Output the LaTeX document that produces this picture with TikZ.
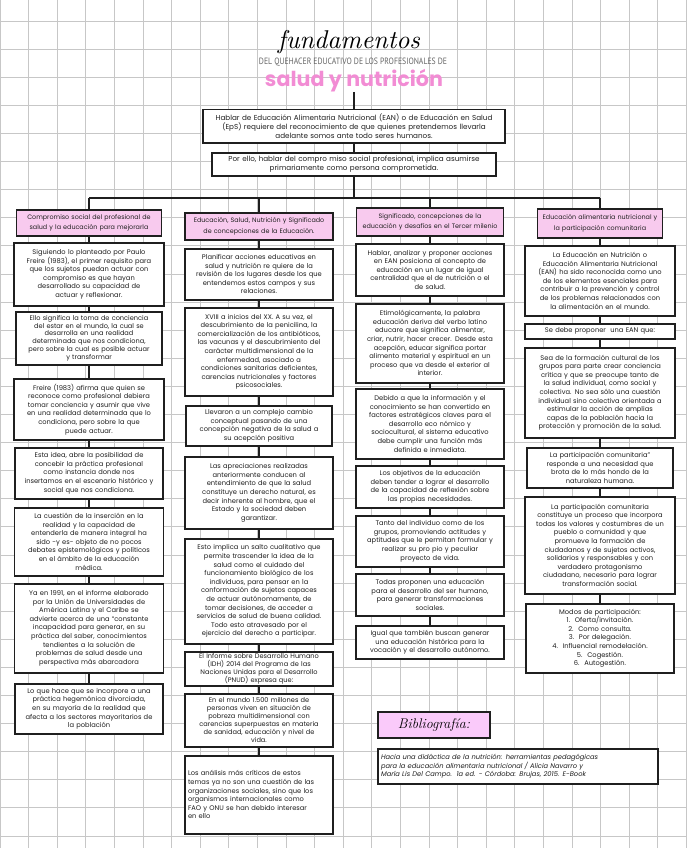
\documentclass[tikz,border=0pt]{standalone}
\usepackage{fontspec}
\setmainfont{Poppins}
\newfontfamily\lmfont{Latin Modern Roman}
\newfontfamily\subfont{PT Sans}
\usepackage{graphicx}
\definecolor{hpink}{RGB}{248,202,238}
\definecolor{bpink}{RGB}{250,202,250}
\definecolor{tpink}{RGB}{242,140,212}
\tikzset{
 gridline/.style={draw=black!22, line width=0.7pt},
 box/.style={draw=black!88, line width=1.5pt, fill=white, inner sep=0pt, align=center, font=\fontsize{6.7}{8.6}\selectfont, text=black!88},
 tightbox/.style={box, font=\fontsize{6.6}{7.9}\selectfont},
 lbox/.style={box, align=left},
 head/.style={box, fill=hpink, font=\fontsize{6.4}{10.5}\selectfont},
 topbox/.style={box, font=\fontsize{7.2}{9.2}\selectfont},
 conn/.style={line width=1.6pt, draw=black!88},
}
\newcommand\mybox[7]{\pgfmathsetmacro\myw{#5-6}\pgfmathsetmacro\myh{#4-#3}\node[#6, minimum width=#5pt, minimum height=\myh pt, text width=\myw pt, anchor=north] (#1) at (#2,#3) {#7};}
\begin{document}
\begin{tikzpicture}[x=1pt,y=-1pt]
\useasboundingbox (0,0) rectangle (686,848);
\fill[white] (0,0) rectangle (686,848);
\foreach \i in {0,...,24} \draw[gridline] (\i*28.6,0) -- (\i*28.6,848);
\foreach \k in {0,...,29} \draw[gridline] (0,21+\k*28.1) -- (686,21+\k*28.1);

% title
\node[inner sep=0pt] (title) at (349,42) {\resizebox{142pt}{!}{\lmfont\itshape fundamentos}};
\node[inner sep=0pt, text=black!60] (sub) at (353,62) {\resizebox{188pt}{6.5pt}{\subfont DEL QUEHACER EDUCATIVO DE LOS PROFESIONALES DE}};
\node[inner sep=0pt] (sal) at (354,81) {\resizebox{178pt}{!}{\color{tpink}\bfseries salud y nutrición}};
\coordinate (tstart) at (354,92);

% top boxes
\mybox{t1}{354}{109}{142}{302}{topbox}{Hablar de Educación Alimentaria Nutricional (EAN) o de Educación en Salud\\ (EpS) requiere del reconocimiento de que quienes pretendemos llevarla\\ adelante somos ante todo seres humanos.}
\mybox{t2}{354}{152}{175}{284}{topbox}{Por ello, hablar del compro miso social profesional, implica asumirse\\ primariamente como persona comprometida.}
\coordinate (busm) at (354,198);
\coordinate (bus1) at (89,198);
\coordinate (bus2) at (259,198);
\coordinate (bus3) at (430,198);
\coordinate (bus4) at (600,198);

% column 1
\mybox{h1}{89}{209}{235}{145}{head}{Compromiso social del profesional de\\ salud y la educación para mejorarla}
\mybox{a1}{89}{242}{305}{150}{box}{Siguiendo lo planteado por Paulo\\ Freire (1983), el primer requisito para\\ que los sujetos puedan actuar con\\ compromiso es que hayan\\ desarrollado su capacidad de\\ actuar y reflexionar.}
\mybox{a2}{89}{311}{364}{146}{tightbox}{Ello significa la toma de conciencia\\ del estar en el mundo, la cual se\\ desarrolla en una realidad\\ determinada que nos condiciona,\\ pero sobre la cual es posible actuar\\ y transformar}
\mybox{a3}{89}{378}{439}{150}{box}{Freire (1983) afirma que quien se\\ reconoce como profesional debiera\\ tomar conciencia y asumir que vive\\ en una realidad determinada que lo\\ condiciona, pero sobre la que\\ puede actuar.}
\mybox{a4}{89}{447}{498}{148}{box}{Esta idea, abre la posibilidad de\\ concebir la práctica profesional\\ como instancia donde nos\\ insertamos en el escenario histórico y\\ social que nos condiciona.}
\mybox{a5}{89}{507}{575}{149}{box}{La cuestión de la inserción en la\\ realidad y la capacidad de\\ entenderla de manera integral ha\\ sido -y es- objeto de no pocos\\ debates epistemológicos y políticos\\ en el ámbito de la educación\\ médica.}
\mybox{a6}{89}{583}{672}{149}{box}{Ya en 1991, en el informe elaborado\\ por la Unión de Universidades de\\ América Latina y el Caribe se\\ advierte acerca de una “constante\\ incapacidad para generar, en su\\ práctica del saber, conocimientos\\ tendientes a la solución de\\ problemas de salud desde una\\ perspectiva más abarcadora}
\mybox{a7}{89}{683}{733}{148}{box}{Lo que hace que se incorpore a una\\ práctica hegemónica divorciada,\\ en su mayoría de la realidad que\\ afecta a los sectores mayoritarios de\\ la población}

% column 2
\mybox{h2}{259}{212}{239}{148}{head}{Educación, Salud, Nutrición y Significado\\ de concepciones de la Educación.}
\mybox{b1}{259}{248}{299}{148}{box}{Planificar acciones educativas en\\ salud y nutrición re quiere de la\\ revisión de los lugares desde los que\\ entendemos estos campos y sus\\ relaciones.}
\mybox{b2}{259}{307}{395}{148}{box}{XVIII a inicios del XX. A su vez, el\\ descubrimiento de la penicilina, la\\ comercialización de los antibióticos,\\ las vacunas y el descubrimiento del\\ carácter multidimensional de la\\ enfermedad, asociado a\\ condiciones sanitarias deficientes,\\ carencias nutricionales y factores\\ psicosociales.}
\mybox{b3}{259}{405}{445}{146}{box}{Llevaron a un complejo cambio\\ conceptual pasando de una\\ concepción negativa de la salud a\\ su acepción positiva}
\mybox{b4}{259}{456}{528}{148}{box}{Las apreciaciones realizadas\\ anteriormente conducen al\\ entendimiento de que la salud\\ constituye un derecho natural, es\\ decir inherente al hombre, que el\\ Estado y la sociedad deben\\ garantizar.}
\mybox{b5}{259}{538}{643}{148}{box}{Esto implica un salto cualitativo que\\ permite trascender la idea de la\\ salud como el cuidado del\\ funcionamiento biológico de los\\ individuos, para pensar en la\\ conformación de sujetos capaces\\ de actuar autónomamente, de\\ tomar decisiones, de acceder a\\ servicios de salud de buena calidad.\\ Todo esto atravesado por el\\ ejercicio del derecho a participar.}
\mybox{b6}{259}{651}{685}{148}{tightbox}{El Informe sobre Desarrollo Humano\\ (IDH) 2014 del Programa de las\\ Naciones Unidas para el Desarrollo\\ (PNUD) expresa que:}
\mybox{b7}{259}{693}{746}{148}{tightbox}{En el mundo 1.500 millones de\\ personas viven en situación de\\ pobreza multidimensional con\\ carencias superpuestas en materia\\ de sanidad, educación y nivel de\\ vida.}
\mybox{b8}{259}{755}{833}{148}{lbox}{Los análisis más críticos de estos\\ temas ya no son una cuestión de las\\ organizaciones sociales, sino que los\\ organismos internacionales como\\ FAO y ONU se han debido interesar\\ en ello}

% column 3
\mybox{h3}{430}{207}{235}{147}{head}{Significado, concepciones de la\\ educación y desafíos en el Tercer milenio}
\mybox{c1}{430}{243}{295}{148}{box}{Hablar, analizar y proponer acciones\\ en EAN posiciona al concepto de\\ educación en un lugar de igual\\ centralidad que el de nutrición o el\\ de salud.}
\mybox{c2}{430}{303}{382}{148}{box}{Etimológicamente, la palabra\\ educación deriva del verbo latino\\ educare que significa alimentar,\\ criar, nutrir, hacer crecer. Desde esta\\ acepción, educar significa portar\\ alimento material y espiritual en un\\ proceso que va desde el exterior al\\ interior.}
\mybox{c3}{430}{388}{458}{148}{box}{Debido a que la información y el\\ conocimiento se han convertido en\\ factores estratégicos claves para el\\ desarrollo eco nómico y\\ sociocultural, el sistema educativo\\ debe cumplir una función más\\ definida e inmediata.}
\mybox{c4}{430}{465}{507}{148}{box}{Los objetivos de la educación\\ deben tender a lograr el desarrollo\\ de la capacidad de reflexión sobre\\ las propias necesidades.}
\mybox{c5}{430}{515}{566}{148}{box}{Tanto del individuo como de los\\ grupos, promoviendo actitudes y\\ aptitudes que le permitan formular y\\ realizar su pro pio y peculiar\\ proyecto de vida.}
\mybox{c6}{430}{573}{615}{148}{box}{Todas proponen una educación\\ para el desarrollo del ser humano,\\ para generar transformaciones\\ sociales.}
\mybox{c7}{430}{625}{658}{148}{box}{Igual que también buscan generar\\ una educación histórica para la\\ vocación y el desarrollo autónomo.}

% column 4
\mybox{h4}{600}{208}{237}{125}{head}{Educación alimentaria nutricional y\\ la participación comunitaria}
\mybox{d1}{600}{245}{315}{150}{box}{La Educación en Nutrición o\\ Educación Alimentaria Nutricional\\ (EAN) ha sido reconocida como uno\\ de los elementos esenciales para\\ contribuir a la prevención y control\\ de los problemas relacionados con\\ la alimentación en el mundo.}
\mybox{d2}{600}{323}{338}{150}{box}{Se debe proponer\ \ una EAN que:}
\mybox{d3}{600}{347}{437}{150}{box}{Sea de la formación cultural de los\\ grupos para parte crear conciencia\\ crítica y que se preocupe tanto de\\ la salud individual, como social y\\ colectiva. No sea sólo una cuestión\\ individual sino colectiva orientada a\\ estimular la acción de amplias\\ capas de la población hacia la\\ protección y promoción de la salud.}
\mybox{d4}{600}{447}{487}{146}{box}{La participación comunitaria”\\ responde a una necesidad que\\ brota de lo más hondo de la\\ naturaleza humana.}
\mybox{d5}{600}{496}{593}{150}{box}{La participación comunitaria\\ constituye un proceso que incorpora\\ todas los valores y costumbres de un\\ pueblo o comunidad y que\\ promueve la formación de\\ ciudadanos y de sujetos activos,\\ solidarios y responsables y con\\ verdadero protagonismo\\ ciudadano, necesario para lograr\\ transformación social.}
\mybox{d6}{600}{603}{672}{148}{box}{Modos de participación:\\ 1.\hspace{0.7em}Oferta/invitación.\\ 2.\hspace{0.7em}Como consulta.\\ 3.\hspace{0.7em}Por delegación.\\ 4.\hspace{0.7em}Influencial remodelación.\\ 5.\hspace{0.7em}Cogestión.\\ 6.\hspace{0.7em}Autogestión.}

% bibliography
\node[draw=black!88, line width=1.5pt, fill=bpink, minimum width=112pt, minimum height=26pt, inner sep=0pt] (bibh) at (434,725) {\lmfont\itshape\fontsize{14}{14}\selectfont Bibliografía:};
\mybox{bib}{518}{748}{783}{280}{lbox}{\itshape Hacia una didáctica de la nutrición: herramientas pedagógicas\\ para la educación alimentaria nutricional / Alicia Navarro y\\ María Lis Del Campo.\ \ 1a ed. - Córdoba: Brujas, 2015. E-Book}

% connectors
\draw[conn] (tstart) -- (t1.north);
\draw[conn] (t1.south) -- (t2.north);
\draw[conn] (t2.south) -- (busm);
\draw[conn] (bus1) -- (bus4);
\draw[conn] (bus1) -- (h1.north);
\draw[conn] (bus2) -- (h2.north);
\draw[conn] (bus3) -- (h3.north);
\draw[conn] (bus4) -- (h4.north);
\foreach \a/\b in {h1/a1,a1/a2,a2/a3,a3/a4,a4/a5,a5/a6,a6/a7,
  h2/b1,b1/b2,b2/b3,b3/b4,b4/b5,b5/b6,b6/b7,b7/b8,
  h3/c1,c1/c2,c2/c3,c3/c4,c4/c5,c5/c6,c6/c7,
  h4/d1,d1/d2,d2/d3,d3/d4,d4/d5,d5/d6}
  \draw[conn] (\a.south) -- (\b.north);
\end{tikzpicture}
\end{document}
